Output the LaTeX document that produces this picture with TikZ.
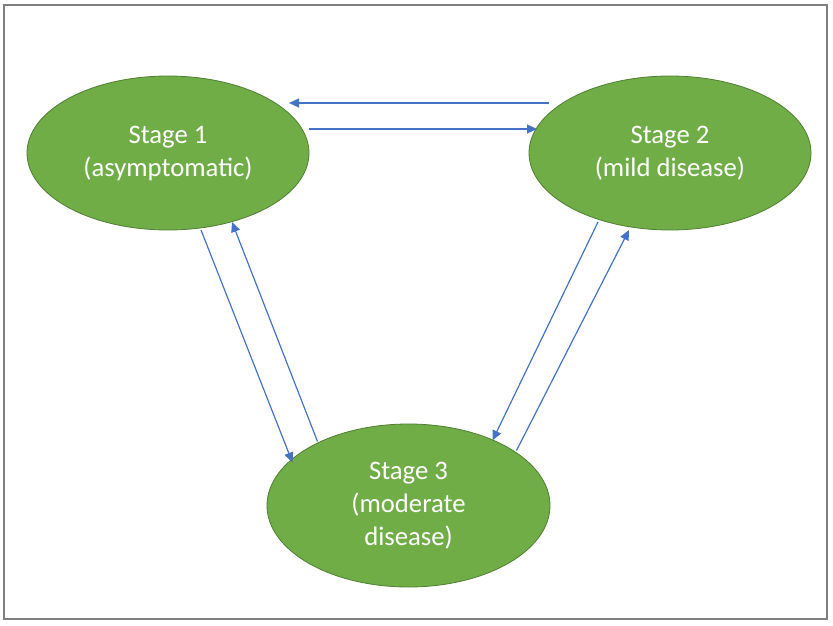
\documentclass[tikz,border=0pt]{standalone}
\usepackage{fontspec}
\setmainfont{Carlito}
\usetikzlibrary{shapes.geometric,arrows.meta,calc}
\definecolor{stagegreen}{HTML}{70AD47}
\definecolor{stageedge}{HTML}{507E32}
\definecolor{arrowblue}{HTML}{4472C4}
\definecolor{framegray}{HTML}{7F7F7F}
\tikzset{
  stagenode/.style={ellipse, fill=stagegreen, draw=stageedge, line width=0.8pt,
    inner sep=0pt, align=center, text=white,
    font=\fontsize{26.7}{33}\selectfont},
  arr/.style={draw=arrowblue, line width=1.2pt,
    -{Triangle[length=10pt,width=9pt]}}
}
\begin{document}
\begin{tikzpicture}[x=1pt,y=-1pt]
\useasboundingbox (0,0) rectangle (833,626);
\draw[framegray, line width=2pt] (4,5) rectangle (827,619);

\node[stagenode, minimum width=282pt, minimum height=154pt] (s1) at (168,153) {Stage 1\\(asymptomatic)};
\node[stagenode, minimum width=282pt, minimum height=154pt] (s2) at (670,153) {Stage 2\\(mild disease)};
\node[stagenode, minimum width=283pt, minimum height=163pt] (s3) at (408.5,505.5) {Stage 3\\(moderate\\disease)};

% horizontal pair
\draw[arr] ($(s2.center)+(-121,-50)$) -- ($(s1.center)+(121,-50)$);
\draw[arr] ($(s1.center)+(141,-24)$) -- ($(s2.center)+(-133,-24)$);
% left pair
\draw[arr] ($(s1.center)+(33,77)$) -- ($(s3.center)+(-116,-43)$);
\draw[arr] ($(s3.center)+(-91,-64)$) -- ($(s1.center)+(64,69)$);
% right pair
\draw[arr] ($(s2.center)+(-72,69)$) -- ($(s3.center)+(84,-65)$);
\draw[arr] ($(s3.center)+(108,-55)$) -- ($(s2.center)+(-41,77)$);
\end{tikzpicture}
\end{document}
